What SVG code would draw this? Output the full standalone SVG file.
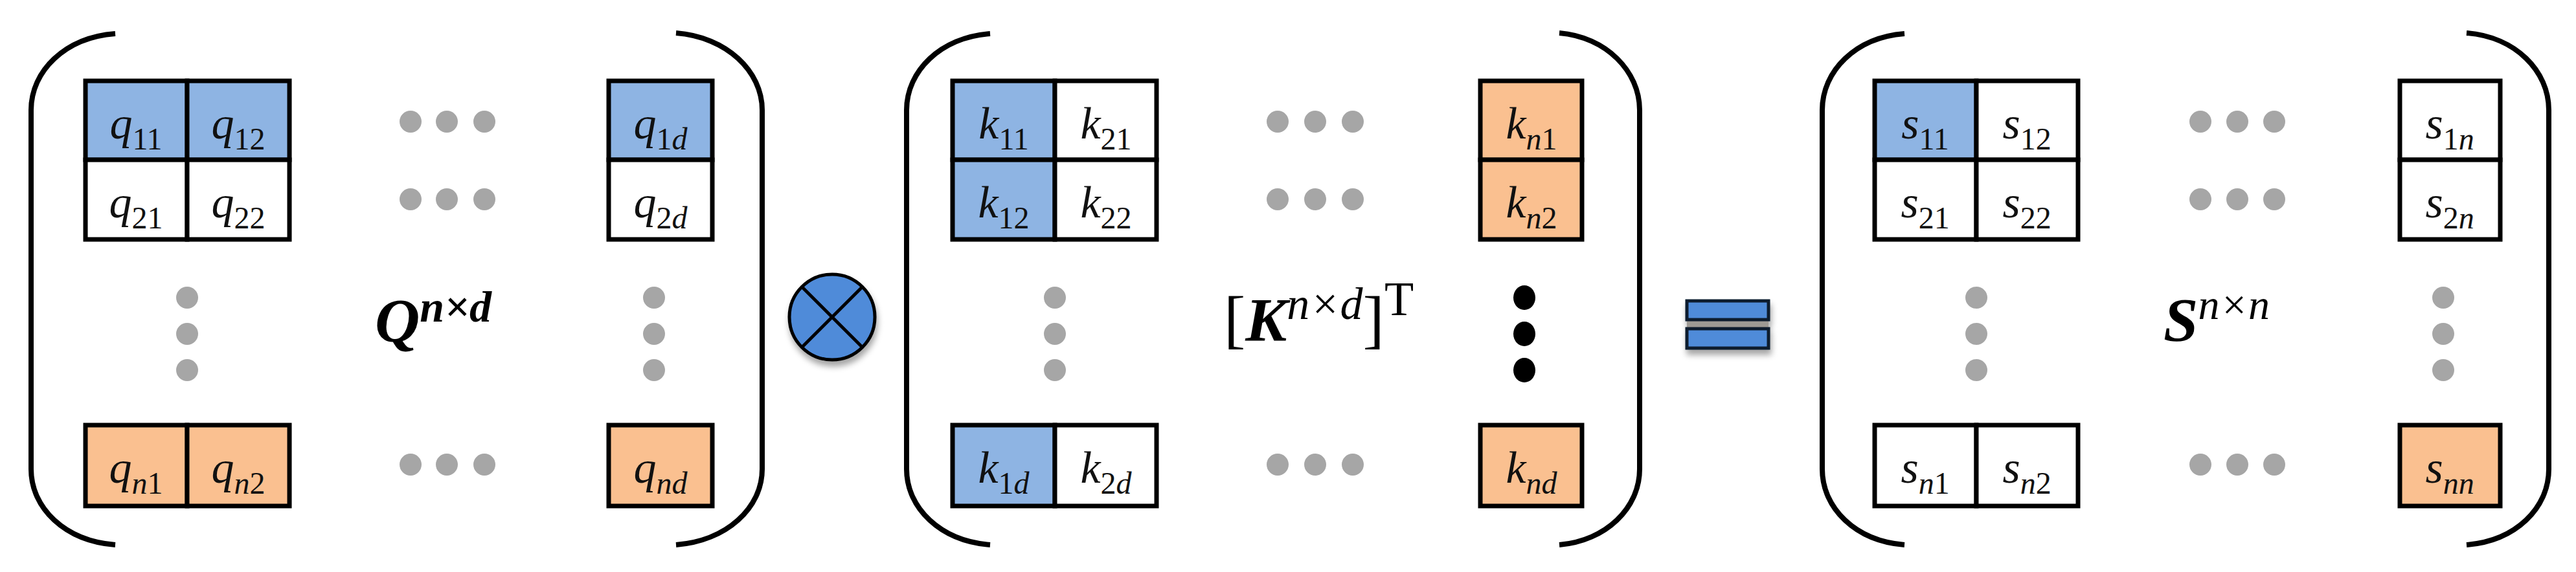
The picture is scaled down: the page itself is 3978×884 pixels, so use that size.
<svg xmlns="http://www.w3.org/2000/svg" width="3978" height="884" viewBox="0 0 3978 884">
<defs>
<style>
.cell{stroke:#000;stroke-width:7}
.blue{fill:#8EB4E3}
.orange{fill:#FAC090}
.white{fill:#fff}
.t{font-family:"Liberation Serif","Times New Roman",serif;font-size:70px;font-style:italic;text-anchor:middle;fill:#111}
.s{font-size:48px;font-style:normal}
.si{font-size:48px;font-style:italic}
.dot{fill:#A6A6A6}
.bdot{fill:#000}
.br{fill:none;stroke:#000;stroke-width:8;stroke-linecap:butt}
.lbl{font-family:"Liberation Serif","Times New Roman",serif;fill:#000}
</style>
<filter id="sh" x="-30%" y="-30%" width="160%" height="170%">
<feDropShadow dx="2" dy="8" stdDeviation="5" flood-color="#000" flood-opacity="0.35"/>
</filter>
</defs>
<rect width="3978" height="884" fill="#fff"/>

<!-- Q matrix -->
<g id="matrixQ">
<path class="br" d="M178,52 C100,58 48,110 48,170 L48,725 C48,785 100,836 178,842"/>
<path class="br" d="M1044,51 C1122,57 1177,110 1177,170 L1177,725 C1177,785 1122,836 1044,842"/>
<rect class="cell blue" x="132" y="125" width="157" height="122"/>
<rect class="cell blue" x="289" y="125" width="158" height="122"/>
<rect class="cell white" x="132" y="247" width="157" height="123"/>
<rect class="cell white" x="289" y="247" width="158" height="123"/>
<rect class="cell orange" x="132" y="657" width="157" height="125"/>
<rect class="cell orange" x="289" y="657" width="158" height="125"/>
<rect class="cell blue" x="940" y="125" width="160" height="122"/>
<rect class="cell white" x="940" y="247" width="160" height="123"/>
<rect class="cell orange" x="940" y="657" width="160" height="125"/>
<text class="t" x="210" y="214">q<tspan class="s" dy="17">11</tspan></text>
<text class="t" x="368" y="214">q<tspan class="s" dy="17">12</tspan></text>
<text class="t" x="210" y="336">q<tspan class="s" dy="17">21</tspan></text>
<text class="t" x="368" y="336">q<tspan class="s" dy="17">22</tspan></text>
<text class="t" x="210" y="746">q<tspan class="si" dy="17">n</tspan><tspan class="s">1</tspan></text>
<text class="t" x="368" y="746">q<tspan class="si" dy="17">n</tspan><tspan class="s">2</tspan></text>
<text class="t" x="1020" y="214">q<tspan class="s" dy="17">1</tspan><tspan class="si">d</tspan></text>
<text class="t" x="1020" y="336">q<tspan class="s" dy="17">2</tspan><tspan class="si">d</tspan></text>
<text class="t" x="1020" y="746">q<tspan class="si" dy="17">nd</tspan></text>
<circle class="dot" cx="634" cy="188" r="17"/><circle class="dot" cx="690" cy="188" r="17"/><circle class="dot" cx="748" cy="188" r="17"/>
<circle class="dot" cx="634" cy="308" r="17"/><circle class="dot" cx="690" cy="308" r="17"/><circle class="dot" cx="748" cy="308" r="17"/>
<circle class="dot" cx="634" cy="718" r="17"/><circle class="dot" cx="690" cy="718" r="17"/><circle class="dot" cx="748" cy="718" r="17"/>
<circle class="dot" cx="289" cy="460" r="17"/><circle class="dot" cx="289" cy="516" r="17"/><circle class="dot" cx="289" cy="572" r="17"/>
<circle class="dot" cx="1010" cy="460" r="17"/><circle class="dot" cx="1010" cy="516" r="17"/><circle class="dot" cx="1010" cy="572" r="17"/>
<text class="lbl" x="579" y="528" font-size="96" font-weight="bold" font-style="italic">Q<tspan y="497" font-size="68">n×d</tspan></text>
</g>

<!-- multiply operator -->
<g id="otimes" filter="url(#sh)">
<circle cx="1285" cy="490" r="66" fill="#4F8BD9" stroke="#000" stroke-width="5"/>
<path d="M1238,443 L1332,537 M1332,443 L1238,537" stroke="#000" stroke-width="5"/>
</g>

<!-- K transpose matrix -->
<g id="matrixK">
<path class="br" d="M1529,52 C1452,58 1400,110 1400,170 L1400,725 C1400,785 1452,836 1529,842"/>
<path class="br" d="M2408,51 C2480,57 2532,110 2532,170 L2532,725 C2532,785 2480,836 2408,842"/>
<rect class="cell blue" x="1471" y="125" width="158" height="122"/>
<rect class="cell white" x="1629" y="125" width="157" height="122"/>
<rect class="cell blue" x="1471" y="247" width="158" height="123"/>
<rect class="cell white" x="1629" y="247" width="157" height="123"/>
<rect class="cell blue" x="1471" y="657" width="158" height="125"/>
<rect class="cell white" x="1629" y="657" width="157" height="125"/>
<rect class="cell orange" x="2286" y="125" width="157" height="122"/>
<rect class="cell orange" x="2286" y="247" width="157" height="123"/>
<rect class="cell orange" x="2286" y="657" width="157" height="125"/>
<text class="t" x="1550" y="214">k<tspan class="s" dy="17">11</tspan></text>
<text class="t" x="1708" y="214">k<tspan class="s" dy="17">21</tspan></text>
<text class="t" x="1550" y="336">k<tspan class="s" dy="17">12</tspan></text>
<text class="t" x="1708" y="336">k<tspan class="s" dy="17">22</tspan></text>
<text class="t" x="1550" y="746">k<tspan class="s" dy="17">1</tspan><tspan class="si">d</tspan></text>
<text class="t" x="1708" y="746">k<tspan class="s" dy="17">2</tspan><tspan class="si">d</tspan></text>
<text class="t" x="2365" y="214">k<tspan class="si" dy="17">n</tspan><tspan class="s">1</tspan></text>
<text class="t" x="2365" y="336">k<tspan class="si" dy="17">n</tspan><tspan class="s">2</tspan></text>
<text class="t" x="2365" y="746">k<tspan class="si" dy="17">nd</tspan></text>
<circle class="dot" cx="1973" cy="188" r="17"/><circle class="dot" cx="2031" cy="188" r="17"/><circle class="dot" cx="2089" cy="188" r="17"/>
<circle class="dot" cx="1973" cy="308" r="17"/><circle class="dot" cx="2031" cy="308" r="17"/><circle class="dot" cx="2089" cy="308" r="17"/>
<circle class="dot" cx="1973" cy="718" r="17"/><circle class="dot" cx="2031" cy="718" r="17"/><circle class="dot" cx="2089" cy="718" r="17"/>
<circle class="dot" cx="1629" cy="460" r="17"/><circle class="dot" cx="1629" cy="516" r="17"/><circle class="dot" cx="1629" cy="572" r="17"/>
<ellipse class="bdot" cx="2354" cy="460" rx="17" ry="19"/><ellipse class="bdot" cx="2354" cy="516" rx="17" ry="19"/><ellipse class="bdot" cx="2354" cy="572" rx="17" ry="19"/>
<text class="lbl" x="1890" y="527" font-size="100">[<tspan font-weight="bold" font-style="italic" font-size="96">K</tspan><tspan y="493" font-style="italic" font-size="70">n×d</tspan><tspan y="527" font-size="100">]</tspan><tspan y="487" font-size="74">T</tspan></text>
</g>

<!-- equals operator -->
<g id="equals" filter="url(#sh)">
<rect x="2605" y="493" width="126" height="16" fill="#9E9A94"/>
<rect x="2605" y="465" width="126" height="29" fill="#4F8BD9" stroke="#0d1a2e" stroke-width="5"/>
<rect x="2605" y="508" width="126" height="30" fill="#4F8BD9" stroke="#0d1a2e" stroke-width="5"/>
</g>

<!-- S matrix -->
<g id="matrixS">
<path class="br" d="M2941,52 C2865,58 2814,110 2814,170 L2814,725 C2814,785 2865,836 2941,842"/>
<path class="br" d="M3809,51 C3885,57 3936,110 3936,170 L3936,725 C3936,785 3885,836 3809,842"/>
<rect class="cell blue" x="2895" y="125" width="157" height="122"/>
<rect class="cell white" x="3052" y="125" width="157" height="122"/>
<rect class="cell white" x="2895" y="247" width="157" height="123"/>
<rect class="cell white" x="3052" y="247" width="157" height="123"/>
<rect class="cell white" x="2895" y="657" width="157" height="125"/>
<rect class="cell white" x="3052" y="657" width="157" height="125"/>
<rect class="cell white" x="3706" y="125" width="155" height="122"/>
<rect class="cell white" x="3706" y="247" width="155" height="123"/>
<rect class="cell orange" x="3706" y="657" width="155" height="125"/>
<text class="t" x="2973" y="214">s<tspan class="s" dy="17">11</tspan></text>
<text class="t" x="3130" y="214">s<tspan class="s" dy="17">12</tspan></text>
<text class="t" x="2973" y="336">s<tspan class="s" dy="17">21</tspan></text>
<text class="t" x="3130" y="336">s<tspan class="s" dy="17">22</tspan></text>
<text class="t" x="2973" y="746">s<tspan class="si" dy="17">n</tspan><tspan class="s">1</tspan></text>
<text class="t" x="3130" y="746">s<tspan class="si" dy="17">n</tspan><tspan class="s">2</tspan></text>
<text class="t" x="3783" y="214">s<tspan class="s" dy="17">1</tspan><tspan class="si">n</tspan></text>
<text class="t" x="3783" y="336">s<tspan class="s" dy="17">2</tspan><tspan class="si">n</tspan></text>
<text class="t" x="3783" y="746">s<tspan class="si" dy="17">nn</tspan></text>
<circle class="dot" cx="3398" cy="188" r="17"/><circle class="dot" cx="3455" cy="188" r="17"/><circle class="dot" cx="3512" cy="188" r="17"/>
<circle class="dot" cx="3398" cy="308" r="17"/><circle class="dot" cx="3455" cy="308" r="17"/><circle class="dot" cx="3512" cy="308" r="17"/>
<circle class="dot" cx="3398" cy="718" r="17"/><circle class="dot" cx="3455" cy="718" r="17"/><circle class="dot" cx="3512" cy="718" r="17"/>
<circle class="dot" cx="3052" cy="460" r="17"/><circle class="dot" cx="3052" cy="516" r="17"/><circle class="dot" cx="3052" cy="572" r="17"/>
<circle class="dot" cx="3773" cy="460" r="17"/><circle class="dot" cx="3773" cy="516" r="17"/><circle class="dot" cx="3773" cy="572" r="17"/>
<text class="lbl" x="3341" y="527" font-size="96" font-weight="bold" font-style="italic">S<tspan y="493" font-weight="normal" font-size="66">n×n</tspan></text>
</g>

<g id="connectors"/>
</svg>
